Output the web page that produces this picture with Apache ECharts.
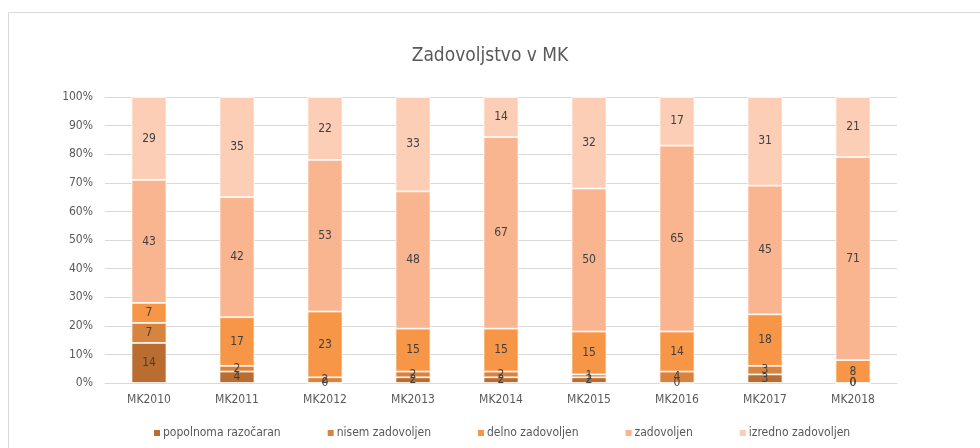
<!DOCTYPE html>
<html>
<head>
<meta charset="utf-8">
<script src="https://cdn.jsdelivr.net/npm/echarts@6/dist/echarts.min.js"></script>
<style>
  html, body { margin: 0; padding: 0; background: #ffffff; }
  #chart { width: 980px; height: 448px; }
</style>
</head>
<body>
<div id="chart"></div>
<script>
// Survey years
var categories = ['MK2010', 'MK2011', 'MK2012', 'MK2013', 'MK2014', 'MK2015', 'MK2016', 'MK2017', 'MK2018'];

// Share of answers per year (each column sums to 100)
var popolnomaRazocaran = [14, 4, 0, 2, 2, 2, 0, 3, 0];
var nisemZadovoljen    = [7, 2, 2, 2, 2, 1, 4, 3, 0];
var delnoZadovoljen    = [7, 17, 23, 15, 15, 15, 14, 18, 8];
var zadovoljen         = [43, 42, 53, 48, 67, 50, 65, 45, 71];
var izrednoZadovoljen  = [29, 35, 22, 33, 14, 32, 17, 31, 21];

var seriesNames = ['popolnoma razočaran', 'nisem zadovoljen', 'delno zadovoljen', 'zadovoljen', 'izredno zadovoljen'];
var seriesData = [popolnomaRazocaran, nisemZadovoljen, delnoZadovoljen, zadovoljen, izrednoZadovoljen];
var colors = ['#B96D31', '#D9843E', '#F79646', '#F9B58F', '#FBCEB5'];

var font = "'Liberation Sans Narrow', 'DejaVu Sans Condensed', 'Open Sans', sans-serif";

var chart = echarts.init(document.getElementById('chart'), null, { renderer: 'canvas' });

var series = seriesNames.map(function (name, i) {
  return {
    name: name,
    type: 'bar',
    stack: 'total',
    barWidth: 35,
    data: seriesData[i],
    itemStyle: { color: colors[i], borderColor: '#ffffff', borderWidth: 0.8 },
    label: {
      show: true,
      position: 'inside',
      color: '#404040',
      fontSize: 12,
      fontFamily: font
    },
    emphasis: { disabled: true }
  };
});

chart.setOption({
  animation: false,
  backgroundColor: '#ffffff',
  color: colors,
  graphic: [{
    type: 'rect',
    shape: { x: 8.5, y: 12.5, width: 990, height: 460 },
    style: { fill: 'none', stroke: '#d9d9d9', lineWidth: 1 },
    silent: true
  }],
  title: {
    text: 'Zadovoljstvo v MK',
    left: 'center',
    top: 42,
    textStyle: { color: '#595959', fontSize: 19, fontWeight: 'normal', fontFamily: font }
  },
  legend: {
    bottom: 4,
    left: 147,
    itemWidth: 8,
    itemHeight: 8,
    itemGap: 45,
    icon: 'rect',
    textStyle: { color: '#595959', fontSize: 12, fontFamily: font, padding: [0, 0, 0, -3] },
    data: seriesNames
  },
  grid: { left: 105, right: 83, top: 97, bottom: 65 },
  xAxis: {
    type: 'category',
    data: categories,
    axisLine: { show: true, lineStyle: { color: '#d9d9d9' } },
    axisTick: { show: false },
    axisLabel: { color: '#595959', fontSize: 12, fontFamily: font, margin: 11 }
  },
  yAxis: {
    type: 'value',
    min: 0,
    max: 100,
    interval: 10,
    axisLine: { show: false },
    axisTick: { show: false },
    splitLine: { lineStyle: { color: '#d9d9d9' } },
    axisLabel: { color: '#595959', fontSize: 12, fontFamily: font, margin: 12, formatter: '{value}%' }
  },
  series: series
});
</script>
</body>
</html>
